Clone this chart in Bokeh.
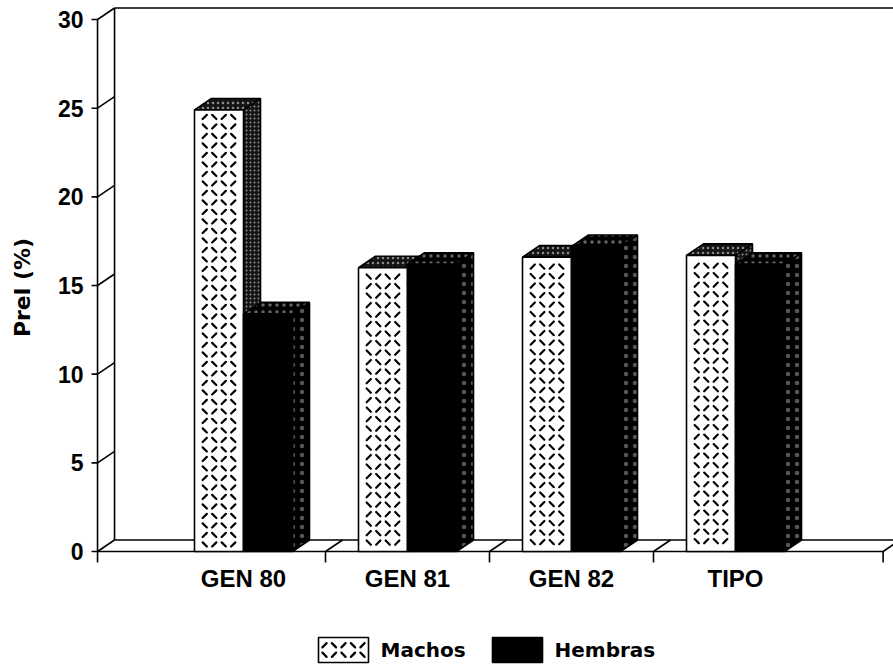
from bokeh.plotting import figure
from bokeh.models import Range1d
from bokeh.embed import file_html
from bokeh.resources import INLINE
from bokeh.core.properties import value
import math

# ---- data -------------------------------------------------------------
categories = ["GEN 80", "GEN 81", "GEN 82", "TIPO"]
machos = [24.9, 16.0, 16.6, 16.7]
hembras = [13.4, 16.2, 17.2, 16.2]
y_ticks = [0, 5, 10, 15, 20, 25, 30]
series_names = ["Machos", "Hembras"]
y_label = "Prel (%)"

# ---- canvas / scale setup --------------------------------------------
W, H = 893, 669
PX_X = 164.0      # pixels per category step
PX_Y = 17.733     # pixels per percent
ORIGIN_X = 243    # pixel column of the first category centre
ORIGIN_Y = 551    # pixel row of the zero line


def px(n):
    return n / PX_X


def py(n):
    return n / PX_Y


def at_x(col):
    """data x of a screen column"""
    return px(col - ORIGIN_X)


def at_y(row):
    """data y of a screen row"""
    return py(ORIGIN_Y - row)


p = figure(width=W, height=H, output_backend="svg", toolbar_location=None,
           title=None, min_border=0,
           x_range=Range1d(at_x(0), at_x(W)),
           y_range=Range1d(at_y(H), at_y(0)))
p.axis.visible = False
p.grid.visible = False
p.outline_line_color = None
p.background_fill_color = "white"
p.border_fill_color = "white"

# 3-D depth offset
DX, DY = px(17), py(11.5)
# extents of the box
X_LO, X_HI = -0.89, 3.9
Y_TOP = y_ticks[-1]
BW = px(49)
bounds = [i + 0.5 for i in range(len(categories) - 1)] + [X_HI]

LW = 1.6
ink = "black"

# tread-plate fill: short dashes whose direction alternates like a checkerboard
STEP = 9.5    # px between dash centres
HALF = 2.1    # px half extent of a dash


def plate_dashes(left, right, bottom, top):
    xs, ys = [], []
    w = (right - left) * PX_X
    h = (top - bottom) * PX_Y
    ncol = int((w - 2) // STEP)
    nrow = int((h - 2) // STEP)
    ox = (w - ncol * STEP) / 2 + STEP / 2
    oy = (h - nrow * STEP) / 2 + STEP / 2
    for r in range(nrow):
        for c in range(ncol):
            cx = left + px(ox + c * STEP)
            cy = bottom + py(oy + r * STEP)
            k = -1 if (r + c) % 2 == 0 else 1
            xs.append([cx - px(HALF), cx + px(HALF)])
            ys.append([cy - k * py(HALF), cy + k * py(HALF)])
    return xs, ys


# back wall and floor outline
xs, ys = [], []
xs.append([X_LO, X_LO]); ys.append([0, Y_TOP])
xs.append([X_LO + DX, X_LO + DX]); ys.append([DY, Y_TOP + DY])
xs.append([X_LO + DX, X_HI + DX + 1]); ys.append([Y_TOP + DY, Y_TOP + DY])
for t in y_ticks:
    xs.append([X_LO, X_LO + DX]); ys.append([t, t + DY])
    xs.append([X_LO - px(6), X_LO]); ys.append([t, t])
xs.append([X_LO, X_HI]); ys.append([0, 0])
xs.append([X_LO + DX, X_HI + DX]); ys.append([DY, DY])
for b in bounds:
    xs.append([b, b + DX]); ys.append([0, DY])
for b in [X_LO] + bounds:
    xs.append([b, b]); ys.append([0, -py(11)])
p.multi_line(xs, ys, line_color=ink, line_width=LW)


def side_faces(x_right, vals):
    return ([[x, x + DX, x + DX, x] for x in x_right],
            [[0, DY, v + DY, v] for v in vals])


def top_faces(x_left, x_right, vals):
    return ([[a, a + DX, b + DX, b] for a, b in zip(x_left, x_right)],
            [[v, v + DY, v + DY, v] for v in vals])


idx = list(range(len(categories)))
m_left = [i - BW for i in idx]
m_right = [i for i in idx]
h_left = [i for i in idx]
h_right = [i + BW for i in idx]

SPECKLE = dict(hatch_pattern="dot", hatch_color="#8c8c8c", hatch_weight=1)

# Machos: speckled dark sides, tread-plate front
sx, sy = side_faces(m_right, machos)
p.patches(sx, sy, fill_color="#141414", line_color=ink, line_width=LW,
          hatch_scale=4, **SPECKLE)
tx, ty = top_faces(m_left, m_right, machos)
p.patches(tx, ty, fill_color="#141414", line_color=ink, line_width=LW,
          hatch_scale=5, **SPECKLE)
p.quad(left=m_left, right=m_right, bottom=0, top=machos,
       fill_color="white", line_color=ink, line_width=LW)
dxs, dys = [], []
for a, b, v in zip(m_left, m_right, machos):
    u, w = plate_dashes(a, b, 0, v)
    dxs += u
    dys += w
p.multi_line(dxs, dys, line_color=ink, line_width=2.2, line_cap="round")

# Hembras: solid black
sx, sy = side_faces(h_right, hembras)
p.patches(sx, sy, fill_color="black", line_color=ink, line_width=LW,
          hatch_pattern="dot", hatch_color="#555555", hatch_scale=9, hatch_weight=1)
tx, ty = top_faces(h_left, h_right, hembras)
p.patches(tx, ty, fill_color="black", line_color=ink, line_width=LW,
          hatch_pattern="dot", hatch_color="#666666", hatch_scale=7, hatch_weight=1)
p.quad(left=h_left, right=h_right, bottom=0, top=hembras,
       fill_color="black", line_color=ink, line_width=LW)

# tick labels
p.text(x=[X_LO - px(14)] * len(y_ticks), y=y_ticks,
       text=[str(t) for t in y_ticks], text_align="right", text_baseline="middle",
       text_font=value("Liberation Sans"), text_font_style="bold",
       text_font_size="23px", text_color=ink)
p.text(x=idx, y=[-py(27)] * len(idx), text=categories,
       text_align="center", text_baseline="middle",
       text_font=value("Liberation Sans"), text_font_style="bold",
       text_font_size="24px", text_color=ink)
p.text(x=[at_x(22)], y=[at_y(287)], text=[y_label],
       angle=math.pi / 2, text_align="center", text_baseline="middle",
       text_font=value("DejaVu Sans"), text_font_style="bold",
       text_font_size="22px", text_color=ink)

# legend row
SW_LEFT = [at_x(318), at_x(492)]
SW_W = px(50)
SW_TOP, SW_BOT = at_y(637), at_y(662)
p.quad(left=[SW_LEFT[0]], right=[SW_LEFT[0] + SW_W], bottom=SW_BOT, top=SW_TOP,
       fill_color="white", line_color=ink, line_width=LW)
u, w = plate_dashes(SW_LEFT[0], SW_LEFT[0] + SW_W, SW_BOT, SW_TOP)
p.multi_line(u, w, line_color=ink, line_width=2.2, line_cap="round")
p.quad(left=[SW_LEFT[1]], right=[SW_LEFT[1] + SW_W], bottom=SW_BOT, top=SW_TOP,
       fill_color="black", line_color=ink, line_width=LW)
p.text(x=[s + SW_W + px(12) for s in SW_LEFT], y=[(SW_TOP + SW_BOT) / 2] * 2,
       text=series_names, text_align="left", text_baseline="middle",
       text_font=value("DejaVu Sans"), text_font_style="bold",
       text_font_size="20px", text_color=ink)

open("out.html", "w").write(file_html(p, INLINE))
